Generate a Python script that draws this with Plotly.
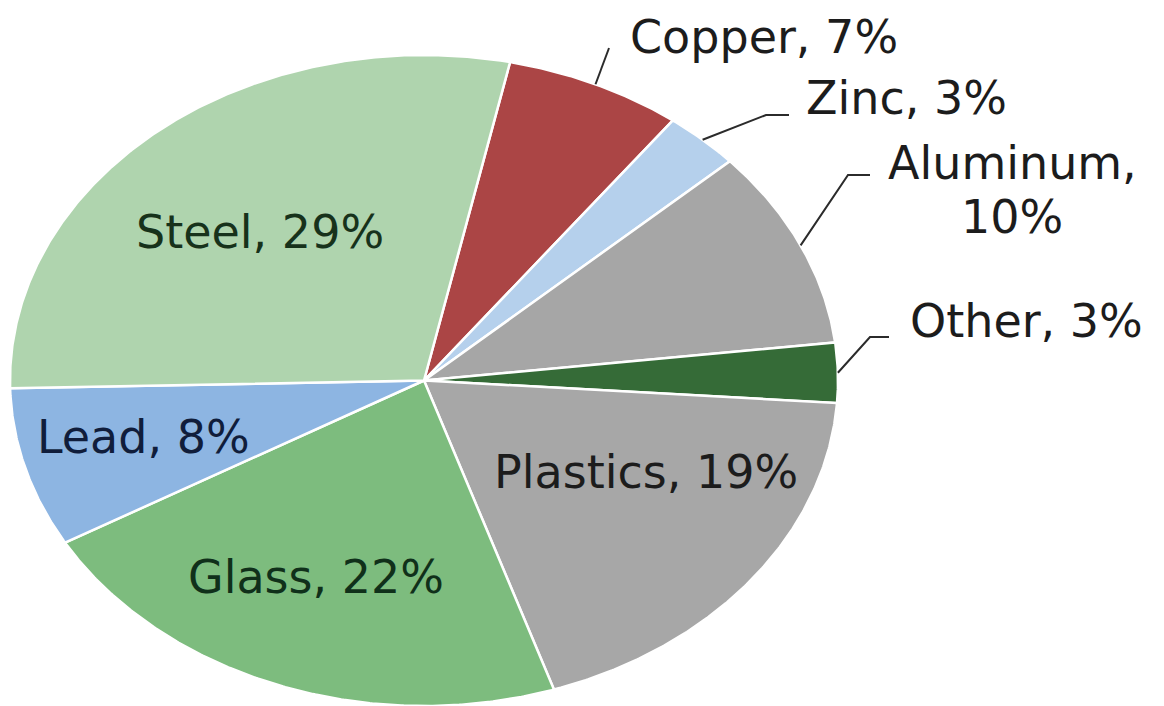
import numpy as np
import plotly.graph_objects as go

# ---- data ----
materials = ["Copper", "Zinc", "Aluminum", "Other", "Plastics", "Glass", "Lead", "Steel"]
shares = [7, 3, 10, 3, 19, 22, 8, 29]
colors = ["#ab4545", "#b5d0ec", "#a6a6a6", "#356b37", "#a7a7a7", "#7dbc7e", "#8db5e2", "#afd4ae"]

# ---- geometry of the (stretched) pie, in pixel-like axis units ----
W, H = 1164, 706
CX, CY, RX, RY = 424, 380.5, 414, 325.5
START = 12.0  # degrees clockwise from 12 o'clock

total = float(sum(shares))
fig = go.Figure()

bounds = []
a0 = START
for name, v, c in zip(materials, shares, colors):
    span = v / total * 360.0
    a1 = a0 + span
    th = np.radians(np.linspace(a0, a1, max(int(span * 3), 8)))
    xs = np.concatenate([[CX], CX + RX * np.sin(th), [CX]])
    ys = np.concatenate([[CY], CY - RY * np.cos(th), [CY]])
    fig.add_trace(go.Scatter(x=xs, y=ys, fill="toself", fillcolor=c, mode="lines",
                             line=dict(color="white", width=2.5), name=name,
                             hoverinfo="name", showlegend=False))
    bounds.append((a0, a1))
    a0 = a1

# ---- labels ----
FONT = "DejaVu Sans, Liberation Sans, Arial, sans-serif"
FS = 46
inside = {
    "Steel": ((260, 231), "#17321b"),
    "Lead": ((143, 436), "#101d3b"),
    "Glass": ((316, 576), "#10301a"),
    "Plastics": ((646, 471), "#1c1c1c"),
}
outside = {
    # label centre, elbow point, end of horizontal segment
    "Copper": ((764, 36), (609, 48), (609, 48)),
    "Zinc": ((906, 97), (766, 115), (789, 115)),
    "Aluminum": ((1012, 161.5), (848, 175), (870, 175)),
    "Other": ((1026, 320), (870, 337), (889, 337)),
}
YOFF = 1.0


def txt(x, y, s, col):
    fig.add_annotation(x=x, y=y + YOFF, text=s, showarrow=False, xanchor="center",
                       yanchor="middle", font=dict(family=FONT, size=FS, color=col))


for name, v, (b0, b1) in zip(materials, shares, bounds):
    lab = f"{name}, {v}%"
    if name in inside:
        (x, y), col = inside[name]
        txt(x, y, lab, col)
    else:
        (lx, ly), elbow, end = outside[name]
        mid = np.radians((b0 + b1) / 2)
        sx, sy = CX + RX * np.sin(mid), CY - RY * np.cos(mid)
        fig.add_trace(go.Scatter(x=[sx, elbow[0], end[0]], y=[sy, elbow[1], end[1]],
                                 mode="lines", line=dict(color="#2b2b2b", width=2),
                                 hoverinfo="skip", showlegend=False))
        if name == "Aluminum":
            txt(lx, ly, f"{name},", "#1c1c1c")
            txt(lx, ly + 54, f"{v}%", "#1c1c1c")
        else:
            txt(lx, ly, lab, "#1c1c1c")

fig.update_layout(
    width=W, height=H, margin=dict(l=0, r=0, t=0, b=0),
    paper_bgcolor="white", plot_bgcolor="white",
    xaxis=dict(range=[0, W], visible=False, fixedrange=True),
    yaxis=dict(range=[H, 0], visible=False, fixedrange=True),
)
fig.write_html("out.html")
